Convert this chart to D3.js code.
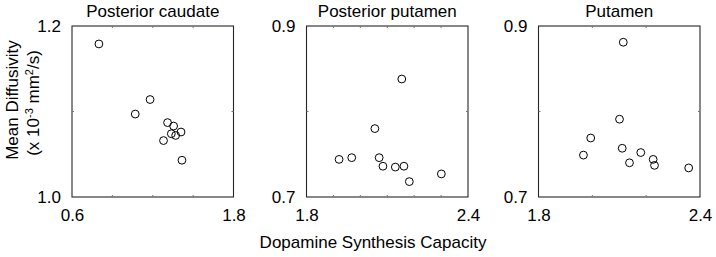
<!DOCTYPE html>
<html>
<head>
<meta charset="utf-8">
<script src="https://cdn.jsdelivr.net/npm/d3@7"></script>
<style>
  body { margin: 0; background: #fff; }
  svg { font-family: Arial, "Liberation Sans", sans-serif; }
</style>
</head>
<body>
<svg id="chart" width="716" height="257"></svg>
<script>
// panel titles
const titles = ["Posterior caudate", "Posterior putamen", "Putamen"]

// axis limits and minor tick values per panel
const xDomains = [[0.6, 1.8], [1.8, 2.4], [1.8, 2.4]]
const yDomains = [[1.0, 1.2], [0.7, 0.9], [0.7, 0.9]]
const xMinorTicks = [[0.9, 1.2, 1.5], [1.9, 2.0, 2.1, 2.2, 2.3], [2.0, 2.2]]
const yMinorTicks = [[1.1], [0.8], [0.8]]

// dopamine synthesis capacity (x) and mean diffusivity (y)
const caudateX = [0.80, 1.18, 1.07, 1.31, 1.355, 1.41, 1.338, 1.37, 1.28, 1.417]
const caudateY = [1.179, 1.114, 1.097, 1.087, 1.083, 1.076, 1.074, 1.072, 1.066, 1.043]
const postPutamenX = [2.154, 2.054, 1.921, 1.968, 2.070, 2.084, 2.130, 2.162, 2.182, 2.301]
const postPutamenY = [0.838, 0.780, 0.744, 0.746, 0.746, 0.736, 0.735, 0.736, 0.718, 0.727]
const putamenX = [2.115, 2.101, 1.994, 2.111, 1.967, 2.180, 2.226, 2.138, 2.231, 2.358]
const putamenY = [0.881, 0.791, 0.769, 0.757, 0.749, 0.752, 0.744, 0.740, 0.737, 0.734]

const seriesX = [caudateX, postPutamenX, putamenX]
const seriesY = [caudateY, postPutamenY, putamenY]

const svg = d3.select("#chart")
const lefts = [72, 306.5, 538.5]
const boxW = 161.5
const boxTop = 26
const boxBottom = 197
const fs = 17

titles.forEach((title, i) => {
  const x0 = lefts[i]
  const xScale = d3.scaleLinear().domain(xDomains[i]).range([x0, x0 + boxW])
  const yScale = d3.scaleLinear().domain(yDomains[i]).range([boxBottom, boxTop])
  const g = svg.append("g")

  // box
  g.append("rect")
    .attr("x", x0)
    .attr("y", boxTop)
    .attr("width", boxW)
    .attr("height", boxBottom - boxTop)
    .attr("fill", "none")
    .attr("stroke", "#262626")
    .attr("stroke-width", 1.1)

  // tiny inward ticks on all sides
  xMinorTicks[i].forEach((v) => {
    g.append("line").attr("x1", xScale(v)).attr("x2", xScale(v))
      .attr("y1", boxBottom).attr("y2", boxBottom - 2).attr("stroke", "#777")
    g.append("line").attr("x1", xScale(v)).attr("x2", xScale(v))
      .attr("y1", boxTop).attr("y2", boxTop + 2).attr("stroke", "#777")
  })
  yMinorTicks[i].forEach((v) => {
    g.append("line").attr("x1", x0).attr("x2", x0 + 2)
      .attr("y1", yScale(v)).attr("y2", yScale(v)).attr("stroke", "#777")
    g.append("line").attr("x1", x0 + boxW).attr("x2", x0 + boxW - 2)
      .attr("y1", yScale(v)).attr("y2", yScale(v)).attr("stroke", "#777")
  })

  // end tick labels via d3 axes
  const xAxis = d3.axisBottom(xScale).tickValues(xDomains[i]).tickSize(0).tickPadding(12)
    .tickFormat(d3.format(".1f"))
  const gx = g.append("g").attr("transform", `translate(0,${boxBottom})`).call(xAxis)
  gx.select(".domain").remove()
  gx.selectAll("text").attr("font-size", fs).attr("font-family", "Arial, 'Liberation Sans', sans-serif").attr("fill", "#000")

  const yAxis = d3.axisLeft(yScale).tickValues(yDomains[i]).tickSize(0).tickPadding(11)
    .tickFormat(d3.format(".1f"))
  const gy = g.append("g").attr("transform", `translate(${x0},0)`).call(yAxis)
  gy.select(".domain").remove()
  gy.selectAll("text").attr("font-size", fs).attr("font-family", "Arial, 'Liberation Sans', sans-serif").attr("fill", "#000")

  // title
  g.append("text")
    .attr("x", x0 + boxW / 2)
    .attr("y", 17)
    .attr("text-anchor", "middle")
    .attr("font-size", fs)
    .text(title)

  // points
  const pts = seriesX[i].map((x, k) => ({ x: x, y: seriesY[i][k] }))
  g.selectAll(".pt")
    .data(pts)
    .enter()
    .append("circle")
    .attr("class", "pt")
    .attr("cx", (d) => xScale(d.x))
    .attr("cy", (d) => yScale(d.y))
    .attr("r", 3.9)
    .attr("fill", "none")
    .attr("stroke", "#000")
    .attr("stroke-width", 1)
})

// y axis label
svg.append("text")
  .attr("transform", "translate(18,100) rotate(-90)")
  .attr("text-anchor", "middle")
  .attr("font-size", fs)
  .text("Mean Diffusivity")

const yl2 = svg.append("text")
  .attr("transform", "translate(39,103) rotate(-90)")
  .attr("text-anchor", "middle")
  .attr("font-size", fs)
yl2.append("tspan").text("(x 10")
yl2.append("tspan").attr("font-size", 11).attr("dy", -6).text("-3")
yl2.append("tspan").attr("dy", 6).text(" mm")
yl2.append("tspan").attr("font-size", 11).attr("dy", -6).text("2")
yl2.append("tspan").attr("dy", 6).text("/s)")

// x axis label
svg.append("text")
  .attr("x", 373)
  .attr("y", 248)
  .attr("text-anchor", "middle")
  .attr("font-size", fs)
  .text("Dopamine Synthesis Capacity")
</script>
</body>
</html>
